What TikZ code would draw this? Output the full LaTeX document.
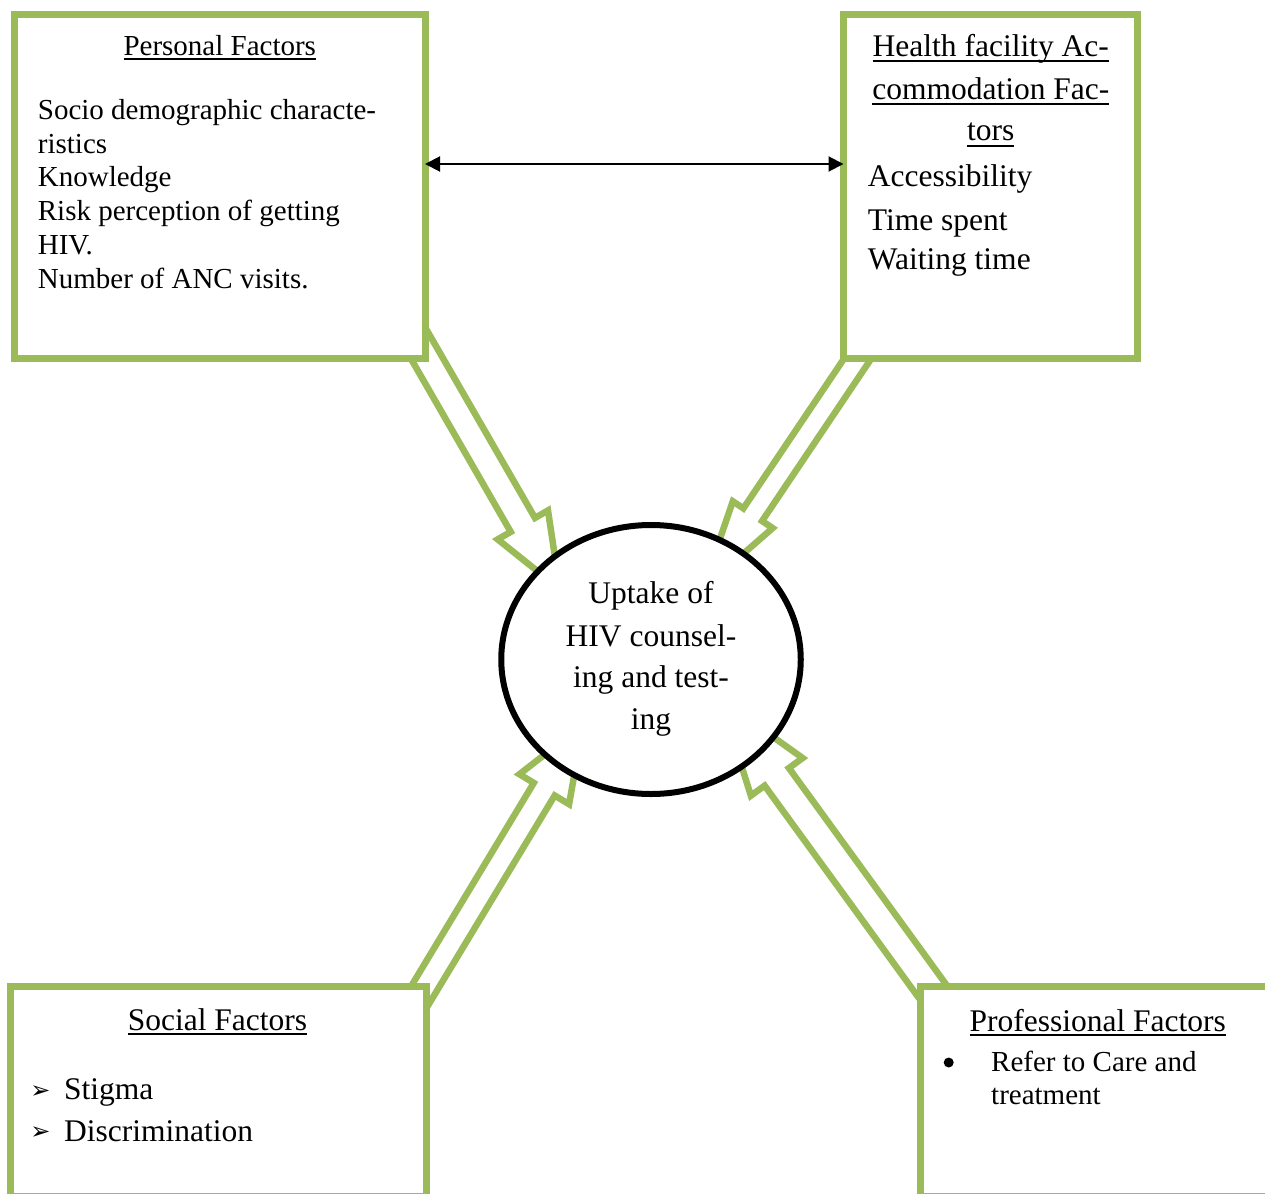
\documentclass[tikz,border=0pt]{standalone}
\usepackage{fontspec}
\setmainfont{Liberation Serif}
\newfontfamily\dejavu{DejaVu Sans}
\usetikzlibrary{shapes.geometric,arrows.meta,calc}
\definecolor{boxgreen}{HTML}{9BBB59}
\newcommand\ulin[2]{\setbox0\hbox{#2}\rlap{\rule[-#1]{\wd0}{2pt}}\box0}
\newcommand\blockarr[8]{%
  \begin{scope}[shift={(#1,#2)}, rotate=#3]
    \draw[barrow] (#4,#6) -- ({#5-#8},#6) -- ({#5-#8},#7) -- (#5,0) --
      ({#5-#8},-#7) -- ({#5-#8},-#6) -- (#4,-#6) -- cycle;
  \end{scope}}
\tikzset{
  gbox/.style={draw=boxgreen, line width=7pt, fill=white, rectangle, inner sep=0pt, outer sep=0pt},
  barrow/.style={draw=boxgreen, line width=6.5pt, fill=white, miter limit=10},
  smalltxt/.style={inner sep=0pt, anchor=base west, font=\fontsize{29}{34}\selectfont},
  bigtxt/.style={inner sep=0pt, anchor=base west, font=\fontsize{31.5}{40}\selectfont},
  smallhead/.style={inner sep=0pt, anchor=base, font=\fontsize{29}{34}\selectfont},
  bighead/.style={inner sep=0pt, anchor=base, font=\fontsize{31.5}{40}\selectfont},
  dblarrow/.style={line width=2pt, {Triangle[length=15pt,width=15pt]}-{Triangle[length=15pt,width=15pt]}},
  arrbullet/.style={inner sep=0pt, font=\dejavu\fontsize{24}{26}\selectfont},
  dotbullet/.style={circle, fill=black, inner sep=0pt, minimum size=10pt},
}
\begin{document}
\begin{tikzpicture}[x=1pt,y=-1pt]
\useasboundingbox (0,0) rectangle (1265,1193);
\clip (0,0) rectangle (1265,1193);

% block arrows (drawn first, tails hidden under the boxes)
\blockarr{423.8}{353}{-60.05}{-20}{272.4}{14}{29}{74}
\blockarr{829.8}{400}{-123.9}{-60}{228.2}{11.3}{24}{90}
\blockarr{477.4}{900}{58.9}{-130}{204.9}{12.2}{29}{75.5}
\blockarr{851.7}{880}{126}{-160}{223.2}{15}{32}{95.7}

% boxes
\node[gbox, minimum width=410.5pt, minimum height=343.5pt] (pers) at (219.75,186.25) {};
\node[gbox, minimum width=294pt, minimum height=343pt] (hf) at (990.5,186.5) {};
\node[gbox, minimum width=416.5pt, minimum height=209.5pt] (soc) at (218.25,1091.25) {};
\node[gbox, minimum width=350pt, minimum height=209.5pt] (prof) at (1095,1091.25) {};

% double arrow between top boxes
\coordinate (lvl) at (0,164);
\draw[dblarrow] (pers.east |- lvl) -- (hf.west |- lvl);

% central ellipse
\node[ellipse, draw=black, line width=6pt, fill=white, minimum width=299.5pt, minimum height=269pt, inner sep=0pt] (c) at (651,659.5) {};
\node[bighead] (c1) at (651,603.2) {Uptake of};
\node[bighead] (c2) at (651,646.5) {HIV counsel-};
\node[bighead] (c3) at (651,687.5) {ing and test-};
\node[bighead] (c4) at (651,729.8) {ing};

% personal factors text
\node[smallhead] (ph) at (219.75,55.5) {\ulin{4.5pt}{Personal Factors}};
\node[smalltxt] (p1) at (37.7,119.8) {Socio demographic characte-};
\node[smalltxt] (p2) at (37.7,153.2) {ristics};
\node[smalltxt] (p3) at (37.7,186.5) {Knowledge};
\node[smalltxt] (p4) at (37.7,220.5) {Risk perception of getting};
\node[smalltxt] (p5) at (37.7,254.8) {HIV.};
\node[smalltxt] (p6) at (37.7,288.8) {Number of ANC visits.};

% health facility text
\node[bighead] (h1) at (990.8,56.5) {\ulin{6pt}{Health facility Ac-}};
\node[bighead] (h2) at (990.8,99.8) {\ulin{5pt}{commodation Fac-}};
\node[bighead] (h3) at (990.8,140.8) {\ulin{6pt}{tors}};
\node[bigtxt] (h4) at (867.7,186.5) {Accessibility};
\node[bigtxt] (h5) at (867.7,230.8) {Time spent};
\node[bigtxt] (h6) at (867.7,269.8) {Waiting time};

% social factors text
\node[bighead] (sh) at (217.5,1030.5) {\ulin{4.5pt}{Social Factors}};
\node[arrbullet] (sb1) at (40.5,1091.7) {➢};
\node[arrbullet] (sb2) at (40.5,1133.4) {➢};
\node[bigtxt] (s1) at (64,1099.5) {Stigma};
\node[bigtxt] (s2) at (64,1141.2) {Discrimination};

% professional factors text
\node[bighead] (prh) at (1097.7,1031) {\ulin{4.5pt}{Professional Factors}};
\node[dotbullet] (prb) at (948.7,1062.5) {};
\node[smalltxt] (pr1) at (991,1071.2) {Refer to Care and};
\node[smalltxt] (pr2) at (991,1104.5) {treatment};
\end{tikzpicture}
\end{document}
